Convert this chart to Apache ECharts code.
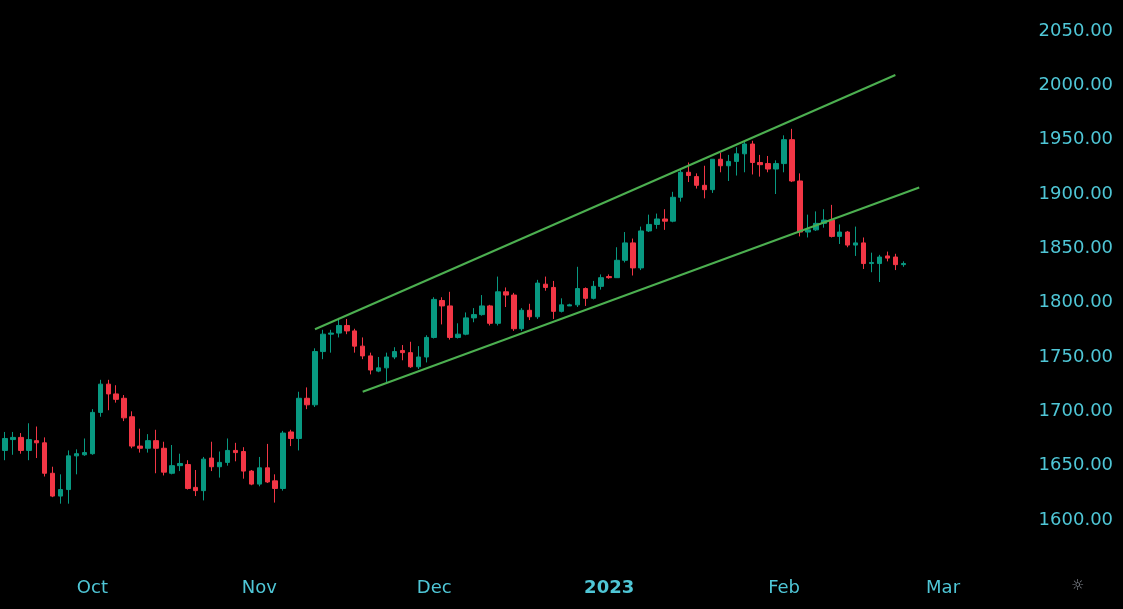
<!DOCTYPE html>
<html>
<head>
<meta charset="utf-8">
<title>Gold daily</title>
<script src="https://cdn.jsdelivr.net/npm/echarts@6/dist/echarts.min.js"></script>
<style>
  html, body { margin: 0; padding: 0; background: #000; }
  #chart { width: 1123px; height: 609px; }
</style>
</head>
<body>
<div id="chart"></div>
<script>
// trading days shown
var dates = [
    '2022-09-15', '2022-09-16', '2022-09-19', '2022-09-20', '2022-09-21', '2022-09-22', '2022-09-23',
    '2022-09-26', '2022-09-27', '2022-09-28', '2022-09-29', '2022-09-30',
    '2022-10-03', '2022-10-04', '2022-10-05', '2022-10-06', '2022-10-07', '2022-10-10', '2022-10-11',
    '2022-10-12', '2022-10-13', '2022-10-14', '2022-10-17', '2022-10-18', '2022-10-19', '2022-10-20',
    '2022-10-21', '2022-10-24', '2022-10-25', '2022-10-26', '2022-10-27', '2022-10-28', '2022-10-31',
    '2022-11-01', '2022-11-02', '2022-11-03', '2022-11-04', '2022-11-07', '2022-11-08', '2022-11-09',
    '2022-11-10', '2022-11-11', '2022-11-14', '2022-11-15', '2022-11-16', '2022-11-17', '2022-11-18',
    '2022-11-21', '2022-11-22', '2022-11-23', '2022-11-24', '2022-11-25', '2022-11-28', '2022-11-29',
    '2022-11-30',
    '2022-12-01', '2022-12-02', '2022-12-05', '2022-12-06', '2022-12-07', '2022-12-08', '2022-12-09',
    '2022-12-12', '2022-12-13', '2022-12-14', '2022-12-15', '2022-12-16', '2022-12-19', '2022-12-20',
    '2022-12-21', '2022-12-22', '2022-12-23', '2022-12-26', '2022-12-27', '2022-12-28', '2022-12-29',
    '2022-12-30',
    '2023-01-02', '2023-01-03', '2023-01-04', '2023-01-05', '2023-01-06', '2023-01-09', '2023-01-10',
    '2023-01-11', '2023-01-12', '2023-01-13', '2023-01-16', '2023-01-17', '2023-01-18', '2023-01-19',
    '2023-01-20', '2023-01-23', '2023-01-24', '2023-01-25', '2023-01-26', '2023-01-27', '2023-01-30',
    '2023-01-31',
    '2023-02-01', '2023-02-02', '2023-02-03', '2023-02-06', '2023-02-07', '2023-02-08', '2023-02-09',
    '2023-02-10', '2023-02-13', '2023-02-14', '2023-02-15', '2023-02-16', '2023-02-17', '2023-02-20',
    '2023-02-21', '2023-02-22'
];

// empty days on the right of the last bar
var futureDates = [
    '2023-02-23', '2023-02-24', '2023-02-27', '2023-02-28', '2023-03-01', '2023-03-02', '2023-03-03',
    '2023-03-06', '2023-03-07', '2023-03-08', '2023-03-09', '2023-03-10', '2023-03-13', '2023-03-14'
];

// [open, close, low, high]
var candles = [
    [1697, 1665, 1660, 1700], [1664, 1675, 1655, 1681], [1674, 1676, 1660, 1681], [1676, 1664, 1661, 1680],
    [1664, 1674, 1655, 1689], [1673, 1671, 1657, 1686], [1671, 1643, 1640, 1676], [1643, 1622, 1621, 1649],
    [1622, 1628, 1615, 1642], [1628, 1659, 1615, 1664], [1659, 1661, 1642, 1665], [1660, 1662, 1659, 1675],
    // oct
    [1661, 1699, 1660, 1702], [1699, 1725, 1695, 1729], [1725, 1716, 1701, 1729], [1716, 1711, 1708, 1724],
    [1712, 1694, 1691, 1715], [1695, 1668, 1666, 1700], [1668, 1666, 1662, 1684], [1666, 1673, 1662, 1679],
    [1673, 1666, 1643, 1683], [1666, 1644, 1641, 1672], [1643, 1650, 1642, 1669], [1650, 1652, 1645, 1661],
    [1651, 1629, 1628, 1655], [1630, 1627, 1622, 1646], [1627, 1656, 1618, 1658], [1657, 1649, 1645, 1672],
    [1649, 1653, 1639, 1663], [1653, 1664, 1650, 1675], [1664, 1662, 1654, 1671], [1663, 1645, 1638, 1667],
    [1645, 1633, 1632, 1646],
    // nov
    [1633, 1648, 1631, 1658], [1648, 1635, 1634, 1670], [1636, 1629, 1616, 1642], [1629, 1680, 1627, 1682],
    [1681, 1675, 1668, 1683], [1675, 1712, 1664, 1718], [1712, 1706, 1702, 1722], [1706, 1755, 1704, 1758],
    [1755, 1771, 1748, 1775], [1771, 1772, 1754, 1775], [1772, 1779, 1768, 1786], [1779, 1774, 1771, 1785],
    [1774, 1760, 1754, 1776], [1760, 1751, 1748, 1768], [1751, 1738, 1734, 1754], [1737, 1740, 1736, 1750],
    [1740, 1750, 1727, 1754], [1750, 1755, 1748, 1759], [1756, 1754, 1747, 1761], [1754, 1741, 1740, 1764],
    [1741, 1750, 1739, 1760], [1750, 1768, 1745, 1770],
    // dec
    [1768, 1803, 1767, 1805], [1802, 1797, 1780, 1805], [1797, 1768, 1766, 1810], [1768, 1771, 1767, 1781],
    [1771, 1786, 1770, 1791], [1786, 1789, 1782, 1795], [1789, 1797, 1788, 1807], [1797, 1781, 1779, 1798],
    [1781, 1810, 1779, 1824], [1810, 1807, 1796, 1814], [1807, 1776, 1774, 1809], [1776, 1793, 1774, 1795],
    [1793, 1787, 1784, 1799], [1787, 1818, 1785, 1821], [1817, 1814, 1811, 1824], [1814, 1792, 1785, 1820],
    [1792, 1798, 1791, 1804], [1797, 1798, 1797, 1799], [1798, 1813, 1796, 1833], [1813, 1804, 1797, 1814],
    [1804, 1815, 1803, 1820], [1815, 1823, 1812, 1826],
    // jan
    [1824, 1823, 1822, 1826], [1823, 1839, 1823, 1851], [1839, 1855, 1837, 1865], [1855, 1832, 1825, 1859],
    [1832, 1866, 1830, 1870], [1866, 1872, 1865, 1881], [1872, 1877, 1868, 1882], [1877, 1875, 1867, 1886],
    [1875, 1897, 1874, 1902], [1897, 1920, 1893, 1923], [1920, 1917, 1911, 1929], [1916, 1908, 1905, 1919],
    [1908, 1904, 1896, 1926], [1904, 1932, 1901, 1932], [1932, 1926, 1920, 1938], [1926, 1930, 1912, 1936],
    [1930, 1937, 1917, 1943], [1937, 1946, 1920, 1949], [1946, 1929, 1918, 1949], [1929, 1927, 1916, 1936],
    [1928, 1923, 1920, 1935], [1923, 1928, 1900, 1931],
    // feb
    [1928, 1950, 1920, 1954], [1950, 1912, 1911, 1960], [1912, 1865, 1861, 1919], [1865, 1867, 1860, 1881],
    [1867, 1873, 1866, 1884], [1873, 1876, 1869, 1886], [1876, 1861, 1860, 1890], [1861, 1865, 1854, 1872],
    [1865, 1853, 1851, 1866], [1853, 1855, 1843, 1870], [1855, 1836, 1831, 1860], [1836, 1837, 1828, 1846],
    [1836, 1842, 1819, 1844], [1843, 1841, 1838, 1847], [1842, 1835, 1830, 1845], [1835, 1836, 1833, 1838]
];

// drawn channel lines [date, price]
var channelUpper = [['2022-11-10', 1775.5], ['2023-02-21', 2009.5]];
var channelLower = [['2022-11-18', 1718], ['2023-02-24', 1906]];

// month labels on the time scale
var monthLabels = {
    '2022-10-03': 'Oct',
    '2022-11-01': 'Nov',
    '2022-12-01': 'Dec',
    '2023-01-02': '2023',
    '2023-02-01': 'Feb',
    '2023-03-01': 'Mar'
};

var textColor = '#4fc6d6';
var fontName = 'DejaVu Sans';

var chart = echarts.init(document.getElementById('chart'), null, { renderer: 'canvas' });

var option = {
    backgroundColor: '#000000',
    animation: false,
    grid: {
        left: -7,
        right: 104.4,
        top: -23.3,
        bottom: 34.7,
        containLabel: false,
        outerBoundsMode: 'none'
    },
    xAxis: {
        type: 'category',
        data: dates.concat(futureDates),
        boundaryGap: true,
        axisLine: { show: false },
        axisTick: { show: false },
        splitLine: { show: false },
        axisLabel: {
            interval: function (index, value) {
                return monthLabels[value] !== undefined;
            },
            formatter: function (value) {
                var t = monthLabels[value];
                if (t === '2023') return '{b|2023}';
                return t || '';
            },
            color: textColor,
            fontFamily: fontName,
            fontSize: 18,
            margin: 5,
            rich: {
                b: { color: textColor, fontFamily: fontName, fontSize: 18, fontWeight: 'bold' }
            }
        }
    },
    yAxis: {
        type: 'value',
        position: 'right',
        min: 1550,
        max: 2100,
        interval: 50,
        scale: true,
        axisLine: { show: false },
        axisTick: { show: false },
        splitLine: { show: false },
        axisLabel: {
            color: textColor,
            fontFamily: fontName,
            fontSize: 18,
            margin: 20,
            formatter: function (v) {
                if (v < 1600 || v > 2050) return '';
                return v.toFixed(2);
            }
        }
    },
    series: [
        {
            type: 'candlestick',
            data: candles,
            barWidth: 5,
            itemStyle: {
                color: '#089981',
                color0: '#f23645',
                borderColor: '#089981',
                borderColor0: '#f23645',
                borderColorDoji: '#089981',
                borderWidth: 1
            }
        },
        {
            type: 'line',
            data: channelUpper,
            symbol: 'none',
            lineStyle: { color: '#4caf50', width: 2 },
            silent: true
        },
        {
            type: 'line',
            data: channelLower,
            symbol: 'none',
            lineStyle: { color: '#4caf50', width: 2 },
            silent: true
        }
    ],
    graphic: [
        {
            type: 'text',
            left: 1071,
            top: 579,
            style: { text: '☼', fill: '#8a8f98', fontSize: 15, fontFamily: fontName }
        }
    ]
};

chart.setOption(option);
</script>
</body>
</html>
